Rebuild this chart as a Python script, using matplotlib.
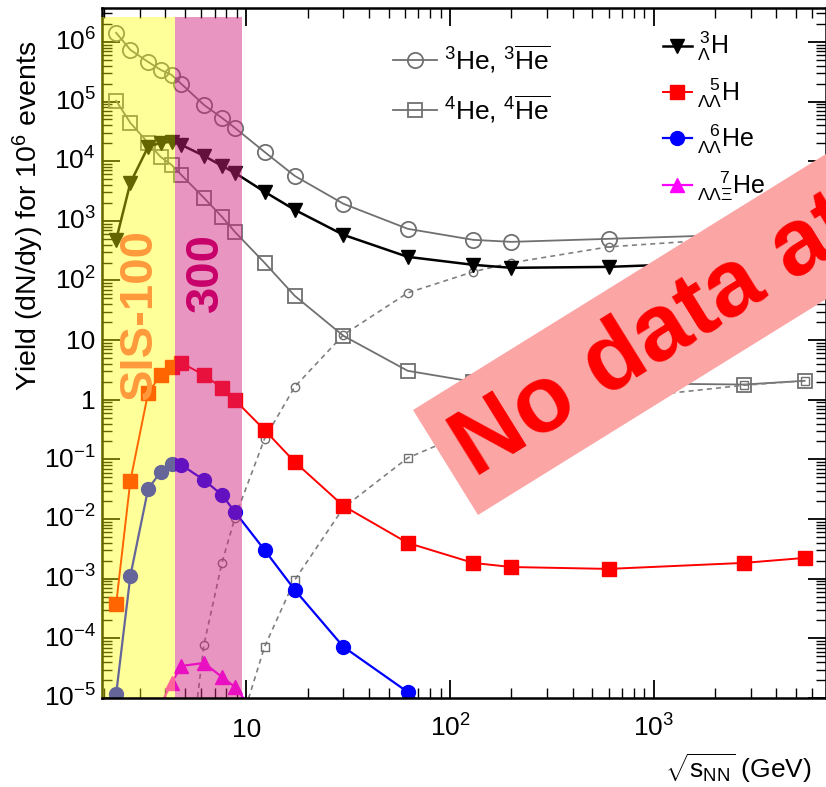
import numpy as np
import matplotlib
matplotlib.use('Agg')
import matplotlib.pyplot as plt
from matplotlib.patches import Polygon
from matplotlib.ticker import FixedLocator, FixedFormatter, LogLocator, NullFormatter
from matplotlib.transforms import ScaledTranslation

nan = np.nan

# collision energies (GeV)
sqrt_s = [2.3, 2.7, 3.3, 3.8, 4.3, 4.8, 6.2, 7.6, 8.8, 12.3, 17.3, 30, 62, 130, 200, 600, 2760, 5500]

# yields dN/dy for 10^6 events
he3 = [1.42e6, 7.35e5, 4.62e5, 3.4e5, 2.8e5, 1.98e5, 8.8e4, 5.33e4, 3.62e4, 1.43e4, 5.67e3, 1.93e3,
       735, 480, 444, 499, 590, 660]
he3_bar = [nan, nan, nan, nan, nan, 6e-8, 7.8e-5, 1.85e-3, 1.05e-2, 0.222, 1.65, 12.3,
           62, 140, 198, 366, 520, 640]
he4 = [1.03e5, 4.39e4, 2.03e4, 1.18e4, 8.68e3, 5.9e3, 2.43e3, 1.17e3, 653, 198, 55.3, 11.8,
       3.06, 2.0, 1.95, 1.9, 1.8, 2.08]
he4_bar = [nan, nan, nan, nan, nan, nan, nan, nan, 1.8e-6, 7.2e-5, 9.5e-4, 0.0155,
           0.106, 0.31, 0.5, 1.0, 1.75, 2.08]
h3_l = [479, 4.33e3, 1.74e4, 2.03e4, 2.11e4, 1.88e4, 1.23e4, 8.35e3, 6.38e3, 3.07e3, 1.53e3, 582,
        249, 183, 163, 169, 205, 222]
h5_ll = [3.78e-4, 0.0436, 1.30, 2.61, 3.55, 4.15, 2.61, 1.58, 0.99, 0.312, 0.0907, 0.0166,
         3.98e-3, 1.84e-3, 1.57e-3, 1.46e-3, 1.84e-3, 2.23e-3]
he6_ll = [1.17e-5, 1.11e-3, 0.032, 0.0617, 0.084, 0.081, 0.0453, 0.0254, 0.0132, 3.03e-3, 6.5e-4, 7.2e-5,
          1.26e-5, 1.5e-6, nan, nan, nan, nan]
he7_llx = [nan, nan, nan, 7.6e-6, 1.79e-5, 3.44e-5, 3.87e-5, 2.25e-5, 1.53e-5, 3.5e-6, nan, nan,
           nan, nan, nan, nan, nan, nan]

# FAIR energy ranges
sis100_edge = 4.47
sis300_edge = 9.55
band_top = 2.6e6

y_tick_vals = [1e-5, 1e-4, 1e-3, 1e-2, 1e-1, 1, 10, 1e2, 1e3, 1e4, 1e5, 1e6]
y_tick_text = [r'$10^{-5}$', r'$10^{-4}$', r'$10^{-3}$', r'$10^{-2}$', r'$10^{-1}$', '1', '10',
               r'$10^{2}$', r'$10^{3}$', r'$10^{4}$', r'$10^{5}$', r'$10^{6}$']
x_tick_vals = [10, 100, 1000]
x_tick_text = ['10', r'$10^{2}$', r'$10^{3}$']

plt.rcParams['font.family'] = ['Liberation Sans', 'DejaVu Sans']
plt.rcParams['mathtext.fontset'] = 'custom'
plt.rcParams['mathtext.rm'] = 'Liberation Sans'
plt.rcParams['mathtext.it'] = 'Liberation Sans:italic'
plt.rcParams['mathtext.bf'] = 'Liberation Sans:bold'

W, H = 826, 787


def fpx(x, y):
    # image pixel -> figure fraction
    return (x / W, 1 - y / H)


fig = plt.figure(figsize=(W / 100, H / 100), dpi=100)
ax = fig.add_axes([102 / W, 1 - 698 / H, (826 - 102) / W, (698 - 8) / H])
ax.set_xscale('log')
ax.set_yscale('log')

grey = '#707070'
l_he3, = ax.plot(sqrt_s, he3, color=grey, lw=1.3, marker='o', ms=11, mfc='none', mec=grey, mew=1.3, zorder=3)
ax.plot(sqrt_s, he3_bar, color='#808080', lw=1.2, ls=(0, (3, 2.5)), marker='o', ms=6, mfc='none',
        mec=grey, mew=1.0, zorder=3)
l_he4, = ax.plot(sqrt_s, he4, color=grey, lw=1.3, marker='s', ms=10.5, mfc='none', mec=grey, mew=1.3, zorder=3)
ax.plot(sqrt_s, he4_bar, color='#808080', lw=1.2, ls=(0, (3, 2.5)), marker='s', ms=6, mfc='none',
        mec=grey, mew=1.0, zorder=3)
l_h3, = ax.plot(sqrt_s, h3_l, color='black', lw=1.8, marker='v', ms=10, zorder=3)
l_h5, = ax.plot(sqrt_s, h5_ll, color='red', lw=1.4, marker='s', ms=9.5, zorder=3)
l_he6, = ax.plot(sqrt_s, he6_ll, color='blue', lw=1.6, marker='o', ms=10, zorder=3)
l_he7, = ax.plot(sqrt_s, he7_llx, color='magenta', lw=1.6, marker='^', ms=10, zorder=3)

ax.set_xlim(1.96, 7000)
ax.set_ylim(1e-5, 3.7e6)

# translucent FAIR bands over the data
ax.fill_between([1.94, sis100_edge], 1e-5, band_top, color='#ffff00', alpha=0.4, lw=0, zorder=5, clip_on=False)
ax.fill_between([sis100_edge, sis300_edge], 1e-5, band_top, color='#d0237f', alpha=0.48, lw=0, zorder=5)
ax.text(3.01, 26.5, 'SIS-100', rotation=90, color='#ff9a3c', fontsize=34, fontweight='bold',
        ha='center', va='center', zorder=6)
ax.text(6.35, 134, '300', rotation=90, color='#c8006a', fontsize=34, fontweight='bold',
        ha='center', va='center', zorder=6)

# axes style (ROOT like)
for s in ax.spines.values():
    s.set_linewidth(1.8)
ax.spines['bottom'].set_zorder(6)
ax.tick_params(which='both', direction='in', top=True, right=True)
ax.tick_params(which='major', length=13, width=1.3, labelsize=19)
ax.tick_params(which='minor', length=7, width=1.0)
ax.tick_params(axis='x', pad=28)
ax.tick_params(axis='y', pad=4.5)
ax.yaxis.set_major_locator(FixedLocator(y_tick_vals))
ax.yaxis.set_major_formatter(FixedFormatter(y_tick_text))
ax.yaxis.set_minor_locator(LogLocator(base=10, subs=np.arange(2, 10), numticks=100))
ax.yaxis.set_minor_formatter(NullFormatter())
ax.xaxis.set_major_locator(FixedLocator(x_tick_vals))
ax.xaxis.set_major_formatter(FixedFormatter(x_tick_text))
ax.xaxis.set_minor_locator(LogLocator(base=10, subs=np.arange(2, 10), numticks=100))
ax.xaxis.set_minor_formatter(NullFormatter())

shift = ScaledTranslation(0, -0.088, fig.dpi_scale_trans)
for t in ax.yaxis.get_major_ticks():
    t.label1.set_va('baseline')
    t.label1.set_transform(t.label1.get_transform() + shift)
for t in ax.xaxis.get_major_ticks():
    t.label1.set_va('baseline')

fig.text(*fpx(28, 216), r'Yield (dN/dy) for 10$^{6}$ events', rotation=90, ha='center', va='center', fontsize=20.5)
fig.text(*fpx(812, 768), r'$\sqrt{\mathrm{s}_{\mathrm{NN}}}$ (GeV)', ha='right', va='center', fontsize=19)

leg1 = ax.legend([l_he3, l_he4], [r'$^{3}$He, $^{3}\overline{\mathrm{He}}$', r'$^{4}$He, $^{4}\overline{\mathrm{He}}$'],
                 loc='upper left', bbox_to_anchor=fpx(393, 43), bbox_transform=fig.transFigure,
                 frameon=False, fontsize=19, handlelength=1.65, handletextpad=0.3, labelspacing=0.7,
                 borderpad=0, borderaxespad=0, numpoints=1)
ax.add_artist(leg1)
ax.legend([l_h3, l_h5, l_he6, l_he7],
          [r'$_{\Lambda}^{\,3}$H', r'$_{\Lambda\Lambda}^{\;\;\;5}$H', r'$_{\Lambda\Lambda}^{\;\;\;6}$He',
           r'$_{\Lambda\Lambda\Xi}^{\quad\;\;7}$He'],
          loc='upper left', bbox_to_anchor=fpx(663, 30), bbox_transform=fig.transFigure,
          frameon=False, fontsize=18, handlelength=1.15, handletextpad=0.2, labelspacing=0.52,
          borderpad=0, borderaxespad=0, numpoints=1)

# "No data" banner on top of everything
ang = np.deg2rad(31.8)
ux, uy = np.cos(ang), -np.sin(ang)
A = (413, 410)
B = (478, 515)
L = 700
corners = [A, B, (B[0] + L * ux, B[1] + L * uy), (A[0] + L * ux, A[1] + L * uy)]
fig.add_artist(Polygon([fpx(*c) for c in corners], closed=True, transform=fig.transFigure,
                       facecolor='#fca5a5', edgecolor='none', zorder=10))
fig.text(*fpx(474, 478), 'No data at', rotation=31.8, rotation_mode='anchor', ha='left', va='baseline',
         fontsize=68, fontweight='bold', color='red', zorder=11)

fig.savefig('out.png', dpi=100)
